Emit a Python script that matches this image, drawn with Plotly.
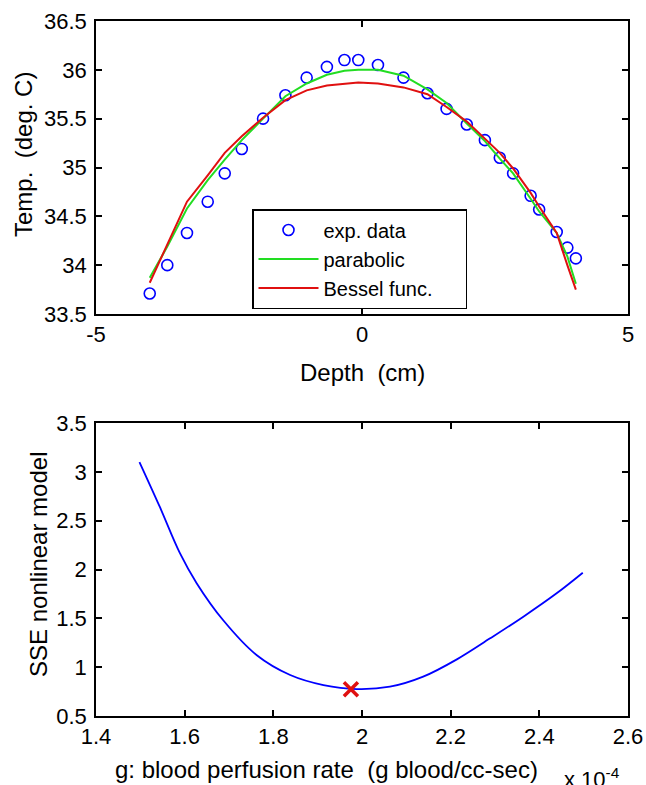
import plotly.graph_objects as go

# ---------------- data ----------------
depth_exp = [-3.99, -3.66, -3.29, -2.90, -2.58, -2.26, -1.86, -1.44, -1.04, -0.66,
             -0.33, -0.07, 0.30, 0.78, 1.23, 1.59, 1.97, 2.31, 2.59, 2.84,
             3.17, 3.33, 3.66, 3.86, 4.02]
temp_exp = [33.71, 34.00, 34.33, 34.65, 34.94, 35.19, 35.50, 35.74, 35.92, 36.03,
            36.10, 36.10, 36.05, 35.92, 35.76, 35.60, 35.44, 35.28, 35.10, 34.94,
            34.71, 34.57, 34.34, 34.18, 34.07]
temp_parabolic = [33.87, 34.19, 34.58, 34.87, 35.08, 35.28, 35.50, 35.73, 35.86, 35.95,
                  35.99, 36.00, 36.00, 35.94, 35.80, 35.66, 35.45, 35.27, 35.09, 34.94,
                  34.68, 34.55, 34.33, 34.09, 33.81]
temp_bessel = [33.82, 34.21, 34.65, 34.92, 35.15, 35.32, 35.51, 35.69, 35.79, 35.84,
               35.86, 35.87, 35.86, 35.82, 35.75, 35.62, 35.47, 35.30, 35.15, 34.99,
               34.74, 34.60, 34.33, 34.00, 33.75]

perfusion_rate = [1.498e-4, 1.544e-4, 1.589e-4, 1.627e-4, 1.687e-4, 1.762e-4, 1.838e-4,
                  1.913e-4, 1.988e-4, 2.063e-4, 2.138e-4, 2.214e-4, 2.289e-4, 2.364e-4,
                  2.439e-4, 2.498e-4]
sse_values = [3.10, 2.64, 2.17, 1.86, 1.48, 1.125, 0.92, 0.817, 0.776, 0.80, 0.903,
              1.08, 1.295, 1.517, 1.756, 1.967]
best_rate = [1.975e-4]
best_sse = [0.775]

top_xticks = [-5, 0, 5]
top_xlabels = ["-5", "0", "5"]
top_yticks = [33.5, 34, 34.5, 35, 35.5, 36, 36.5]
top_ylabels = ["33.5", "34", "34.5", "35", "35.5", "36", "36.5"]
bot_xticks = [1.4e-4, 1.6e-4, 1.8e-4, 2.0e-4, 2.2e-4, 2.4e-4, 2.6e-4]
bot_xlabels = ["1.4", "1.6", "1.8", "2", "2.2", "2.4", "2.6"]
bot_yticks = [0.5, 1, 1.5, 2, 2.5, 3, 3.5]
bot_ylabels = ["0.5", "1", "1.5", "2", "2.5", "3", "3.5"]

# ---------------- figure ----------------
W, H = 646, 785
FONT = "Liberation Sans, Arial, Helvetica, sans-serif"
BLUE, GREEN, RED = "#0000ff", "#22dd22", "#e01010"
PAD = "\u00a0" * 5

fig = go.Figure()
fig.add_trace(go.Scatter(x=depth_exp, y=temp_exp, mode="markers", name="exp. data",
                         marker=dict(symbol="circle-open", size=11, color=BLUE,
                                     line=dict(width=1.6, color=BLUE)),
                         xaxis="x", yaxis="y"))
fig.add_trace(go.Scatter(x=depth_exp, y=temp_parabolic, mode="lines", name="parabolic",
                         line=dict(color=GREEN, width=2), xaxis="x", yaxis="y"))
fig.add_trace(go.Scatter(x=depth_exp, y=temp_bessel, mode="lines",
                         name="Bessel func." + PAD,
                         line=dict(color=RED, width=2), xaxis="x", yaxis="y"))
fig.add_trace(go.Scatter(x=perfusion_rate, y=sse_values, mode="lines", showlegend=False,
                         line=dict(color=BLUE, width=1.8, shape="spline"),
                         xaxis="x2", yaxis="y2"))
fig.add_trace(go.Scatter(x=best_rate, y=best_sse, mode="markers", showlegend=False,
                         marker=dict(symbol="x-thin", size=14, color=RED,
                                     line=dict(width=3.5, color=RED)),
                         xaxis="x2", yaxis="y2"))

xd = [96 / W, 628 / W]
axis_common = dict(showline=True, linecolor="black", linewidth=1.5, mirror="ticks",
                   ticks="inside", ticklen=6, tickwidth=1.5, tickcolor="black",
                   showgrid=False, zeroline=False, automargin=False,
                   tickfont=dict(family=FONT, size=22, color="black"))

fig.update_layout(
    width=W, height=H, margin=dict(l=0, r=0, t=0, b=0, pad=0, autoexpand=False),
    paper_bgcolor="white", plot_bgcolor="white",
    font=dict(family=FONT, color="black"),
    xaxis=dict(domain=xd, range=[-5, 5], tickvals=top_xticks, ticktext=top_xlabels,
               anchor="y", **axis_common),
    yaxis=dict(domain=[1 - 314 / H, 1 - 21 / H], range=[33.5, 36.5],
               tickvals=top_yticks, ticktext=top_ylabels, anchor="x",
               ticklabelstandoff=3, **axis_common),
    xaxis2=dict(domain=xd, range=[1.4e-4, 2.6e-4], tickvals=bot_xticks,
                ticktext=bot_xlabels, anchor="y2", **axis_common),
    yaxis2=dict(domain=[1 - 716 / H, 1 - 423 / H], range=[0.5, 3.5],
                tickvals=bot_yticks, ticktext=bot_ylabels, anchor="x2",
                ticklabelstandoff=3, **axis_common),
    legend=dict(x=252 / W, y=1 - 209 / H, xanchor="left", yanchor="top",
                bordercolor="black", borderwidth=1.5, bgcolor="white",
                font=dict(family=FONT, size=20, color="black"),
                itemwidth=60, tracegroupgap=0),
    showlegend=True,
)

title_font = dict(family=FONT, size=24, color="black")


def label(text, px, py, angle=0, font=title_font, xanchor="center"):
    fig.add_annotation(text=text, x=px / W, y=1 - py / H, xref="paper", yref="paper",
                       xanchor=xanchor, yanchor="middle", showarrow=False,
                       textangle=angle, font=font)


label("Depth\u00a0 (cm)", 362, 372)
label("Temp.\u00a0 (deg. C)", 24, 155, angle=-90)
label("SSE nonlinear model", 38, 565, angle=-90)
label("g: blood perfusion rate\u00a0 (g blood/cc-sec)", 326, 769)
label("x 10<sup>-4</sup>", 622, 778, font=dict(family=FONT, size=22, color="black"),
      xanchor="right")

fig.write_html("out.html", config={"displayModeBar": False},
               post_script="document.body.style.margin='0';"
                           "document.body.style.overflow='hidden';")
